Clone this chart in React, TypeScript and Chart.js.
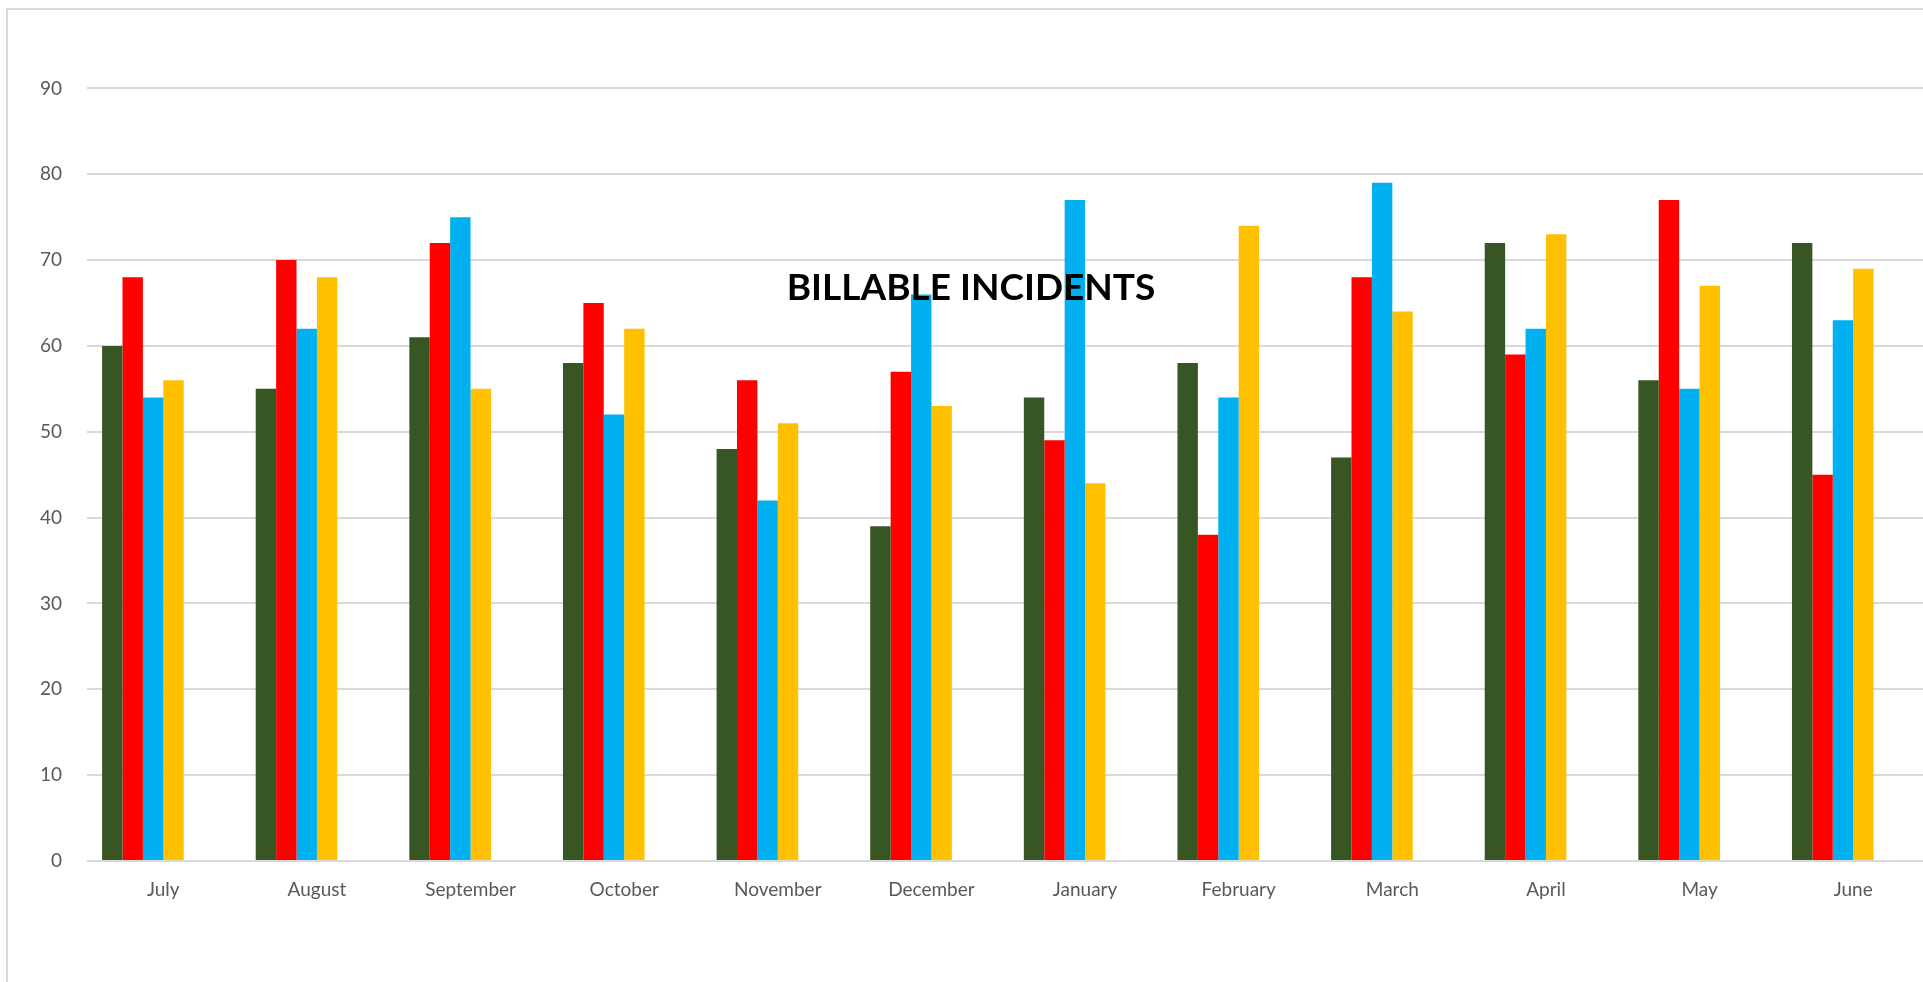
import React, { useEffect, useRef } from "react";
import { Chart, registerables } from "chart.js";

Chart.register(...registerables);

const months = ["July", "August", "September", "October", "November", "December", "January", "February", "March", "April", "May", "June"];
const series1 = [60, 55, 61, 58, 48, 39, 54, 58, 47, 72, 56, 72];
const series2 = [68, 70, 72, 65, 56, 57, 49, 38, 68, 59, 77, 45];
const series3 = [54, 62, 75, 52, 42, 66, 77, 54, 79, 62, 55, 63];
const series4 = [56, 68, 55, 62, 51, 53, 44, 74, 64, 73, 67, 69];
// two empty series in the source chart (they reserve space in each group)
const series5 = [null, null, null, null, null, null, null, null, null, null, null, null];
const series6 = [null, null, null, null, null, null, null, null, null, null, null, null];
const yTicks = [0, 10, 20, 30, 40, 50, 60, 70, 80, 90];
const chartTitle = "BILLABLE INCIDENTS";

const colors = ["#375623", "#FF0000", "#00B0F0", "#FFC000", "#A5A5A5", "#4472C4"];

export default function App() {
  const ref = useRef<HTMLCanvasElement | null>(null);

  useEffect(() => {
    if (!ref.current) return;
    const titlePlugin = {
      id: "overlayTitle",
      afterDatasetsDraw(chart: any) {
        const ctx = chart.ctx;
        ctx.save();
        ctx.font = "bold 37px Lato";
        ctx.fillStyle = "#000000";
        ctx.textAlign = "center";
        ctx.textBaseline = "alphabetic";
        ctx.fillText(chartTitle, 971, 300);
        ctx.restore();
      },
    };
    const all = [series1, series2, series3, series4, series5, series6];
    const chart = new Chart(ref.current, {
      type: "bar",
      data: {
        labels: months,
        datasets: all.map((d, i) => ({
          label: "Series " + (i + 1),
          data: d as any,
          backgroundColor: colors[i],
          borderWidth: 0,
          categoryPercentage: 0.797,
          barPercentage: 1,
        })),
      },
      options: {
        responsive: false,
        animation: false,
        layout: { padding: { top: 88.4, right: 0, left: 0, bottom: 0 } },
        plugins: {
          legend: { display: false },
          title: { display: false },
          tooltip: { enabled: false },
        },
        scales: {
          x: {
            grid: { display: false, drawTicks: false },
            border: { display: false },
            ticks: {
              color: "#595959",
              font: { family: "Lato", size: 19 },
              padding: 17,
              maxRotation: 0,
              autoSkip: false,
            },
            afterFit: (s: any) => {
              s.height = 121;
            },
          },
          y: {
            min: 0,
            max: 90,
            afterBuildTicks: (s: any) => {
              s.ticks = yTicks.map((v) => ({ value: v }));
            },
            grid: { color: "#D9D9D9", lineWidth: 2, drawTicks: false },
            border: { display: false },
            ticks: {
              color: "#595959",
              font: { family: "Lato", size: 19 },
              padding: 24.5,
            },
            afterFit: (s: any) => {
              s.width = 86.5;
            },
          },
        },
      },
      plugins: [titlePlugin],
    });
    return () => chart.destroy();
  }, []);

  return (
    <div style={{ position: "fixed", left: 0, top: 0, width: 1923, height: 982, overflow: "hidden", background: "#fff" }}>
      <div
        style={{
          position: "absolute",
          left: 6,
          top: 8,
          width: 2000,
          height: 1100,
          borderTop: "2px solid #D9D9D9",
          borderLeft: "2px solid #D9D9D9",
        }}
      />
      <canvas ref={ref} width={1930} height={982} style={{ position: "absolute", left: 0, top: 0 }} />
    </div>
  );
}
